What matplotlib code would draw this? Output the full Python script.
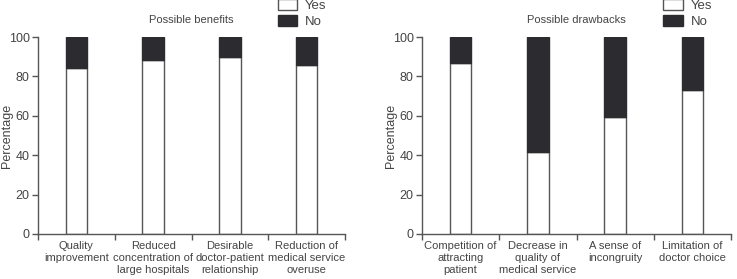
import matplotlib
matplotlib.use("Agg")
import matplotlib.pyplot as plt
from matplotlib.patches import Patch

plt.rcParams['font.family'] = ['Liberation Sans', 'DejaVu Sans']

benefit_labels = ['Quality\nimprovement', 'Reduced\nconcentration of\nlarge hospitals',
                  'Desirable\ndoctor-patient\nrelationship', 'Reduction of\nmedical service\noveruse']
benefit_yes = [84.3, 88.3, 89.7, 85.8]

drawback_labels = ['Competition of\nattracting\npatient', 'Decrease in\nquality of\nmedical service',
                   'A sense of\nincongruity', 'Limitation of\ndoctor choice']
drawback_yes = [87.0, 41.5, 59.2, 73.1]

grey = '#555555'
dark = '#2b2b30'
txt = '#444444'

fig = plt.figure(figsize=(7.37, 2.79), dpi=100)
ax1 = fig.add_axes([0.0516, 0.1613, 0.4166, 0.706])
ax2 = fig.add_axes([0.5726, 0.1613, 0.4193, 0.706])

for ax, labels, yes, title in [(ax1, benefit_labels, benefit_yes, 'Possible benefits'),
                                (ax2, drawback_labels, drawback_yes, 'Possible drawbacks')]:
    pos = [i + 0.5 for i in range(len(labels))]
    no = [100 - v for v in yes]
    ax.bar(pos, yes, width=0.28, color='white', edgecolor=grey, linewidth=1)
    ax.bar(pos, no, bottom=yes, width=0.28, color=dark, edgecolor=dark, linewidth=1)
    ax.set_xlim(0, 4)
    ax.set_ylim(0, 100)
    ax.set_yticks([0, 20, 40, 60, 80, 100])
    ax.set_xticks([0, 1, 2, 3, 4])
    ax.set_xticklabels([])
    ax.set_xticks(pos, minor=True)
    ax.set_xticklabels(labels, minor=True, fontsize=8, color=txt, linespacing=1.25)
    ax.tick_params(axis='x', which='minor', length=0, pad=5)
    ax.tick_params(axis='x', which='major', length=4, color=grey, width=1)
    ax.tick_params(axis='y', length=4, color=grey, width=1, labelsize=9, labelcolor=txt, pad=2)
    for s in ['top', 'right']:
        ax.spines[s].set_visible(False)
    for s in ['left', 'bottom']:
        ax.spines[s].set_color(grey)
        ax.spines[s].set_linewidth(1)
    ax.set_ylabel('Percentage', fontsize=9, color=txt)
    ax.yaxis.set_label_coords(-0.08, 0.5)
    ax.text(0.5, 1.06, title, transform=ax.transAxes, ha='center', va='bottom',
            fontsize=8, color=txt)
    handles = [Patch(facecolor='white', edgecolor=grey, label='Yes'),
               Patch(facecolor=dark, edgecolor=dark, label='No')]
    ax.legend(handles=handles, loc='lower left', bbox_to_anchor=(0.78, 1.045), frameon=False,
              fontsize=9.5, labelcolor=txt, handlelength=1.5, handleheight=0.9,
              handletextpad=0.6, labelspacing=0.2, borderaxespad=0, borderpad=0)

fig.savefig('out.png', dpi=100)
